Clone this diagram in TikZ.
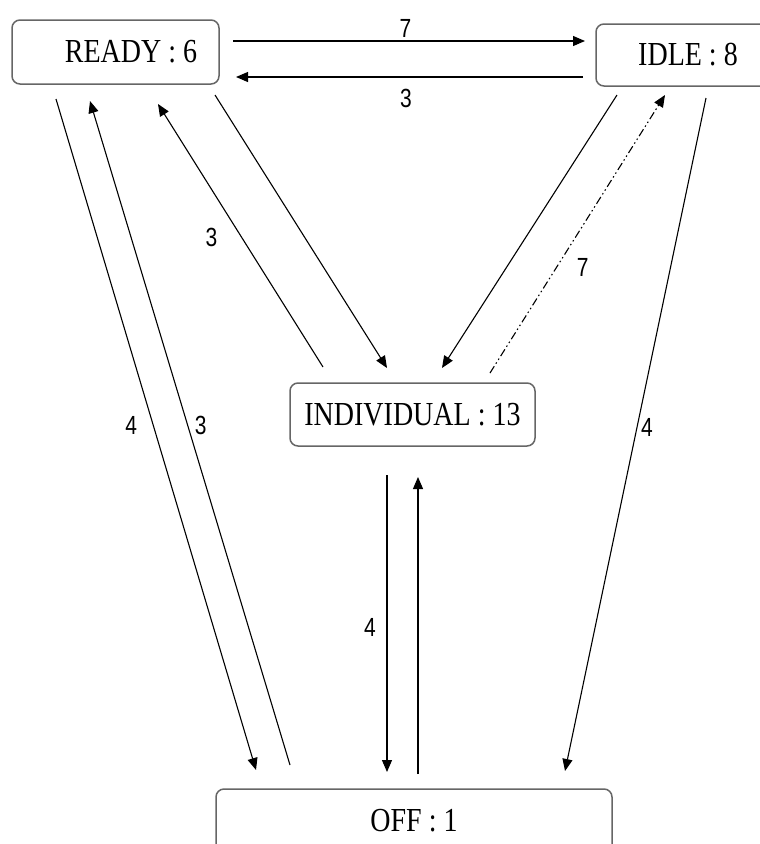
\documentclass[tikz,border=0pt]{standalone}
\usepackage{fontspec}
\setmainfont{Liberation Serif}
\newfontfamily\lblfont{Liberation Sans}
\usepackage{tikz}
\usetikzlibrary{arrows.meta}

\newcommand{\statetxt}[1]{\scalebox{1}[1.2]{#1}}
\newcommand{\arctxt}[1]{\scalebox{1}[1.25]{#1}}

\begin{document}
\begin{tikzpicture}[
    x=1pt, y=-1pt,
    state/.style={draw=black!60, line width=1.5pt, rounded corners=8pt,
    minimum height=64pt, inner sep=0pt, font=\fontsize{28}{30}\selectfont},
    arr/.style={-{Triangle[length=12pt,width=10pt]}, line width=1.1pt},
    dashdot/.style={dash pattern=on 8pt off 3pt on 1.5pt off 3pt on 1.5pt off 3pt},
    lbl/.style={font=\lblfont\fontsize{21}{21}\selectfont, inner sep=0pt}
]
\useasboundingbox (0,0) rectangle (760,844);
\clip (0,0) rectangle (760,844);
% states
\node[state, minimum width=207pt] (ready) at (115.5,52) {\hspace*{31pt}\statetxt{READY : 6}};
\node[state, minimum width=184pt, minimum height=62pt] (idle) at (688,55) {\statetxt{IDLE : 8}};
\node[state, minimum width=245pt, minimum height=63pt] (indiv) at (412.5,414.5) {\statetxt{INDIVIDUAL : 13}};
\node[state, minimum width=396pt] (off) at (414,821) {\statetxt{OFF : 1}};
% transitions
\draw[arr] ([shift={(117.5,-11)}]ready.center) -- node[lbl, pos=0.49, yshift=13pt] {\arctxt{7}} ([shift={(-103,-14)}]idle.center);
\draw[arr] ([shift={(-105,22)}]idle.center) -- node[lbl, pos=0.51, yshift=-21pt] {\arctxt{3}} ([shift={(120.5,25)}]ready.center);
\draw[arr] ([shift={(-59.5,47)}]ready.center) -- node[lbl, pos=0.486, xshift=-22pt] {\arctxt{4}} ([shift={(-158,-51)}]off.center);
\draw[arr] ([shift={(-124,-56)}]off.center) -- node[lbl, pos=0.512, xshift=13pt] {\arctxt{3}} ([shift={(-25.5,49)}]ready.center);
\draw[arr] ([shift={(-89.5,-47.5)}]indiv.center) -- node[lbl, pos=0.494, xshift=-30pt] {\arctxt{3}} ([shift={(42.5,52)}]ready.center);
\draw[arr] ([shift={(99.5,43)}]ready.center) -- ([shift={(-25.5,-46.5)}]indiv.center);
\draw[arr] ([shift={(-71,40)}]idle.center) -- ([shift={(29.5,-46.5)}]indiv.center);
\draw[arr, dashdot] ([shift={(77.5,-41.5)}]indiv.center) -- node[lbl, pos=0.381, xshift=26pt] {\arctxt{7}} ([shift={(-23,40)}]idle.center);
\draw[arr] ([shift={(18,43)}]idle.center) -- node[lbl, pos=0.49, xshift=10pt] {\arctxt{4}} ([shift={(151,-50)}]off.center);
\draw[arr] ([shift={(-25.5,60.5)}]indiv.center) -- node[lbl, pos=0.512, xshift=-17pt] {\arctxt{4}} ([shift={(-27,-49)}]off.center);
\draw[arr] ([shift={(4,-47)}]off.center) -- ([shift={(5.5,62.5)}]indiv.center);
\end{tikzpicture}
\end{document}
